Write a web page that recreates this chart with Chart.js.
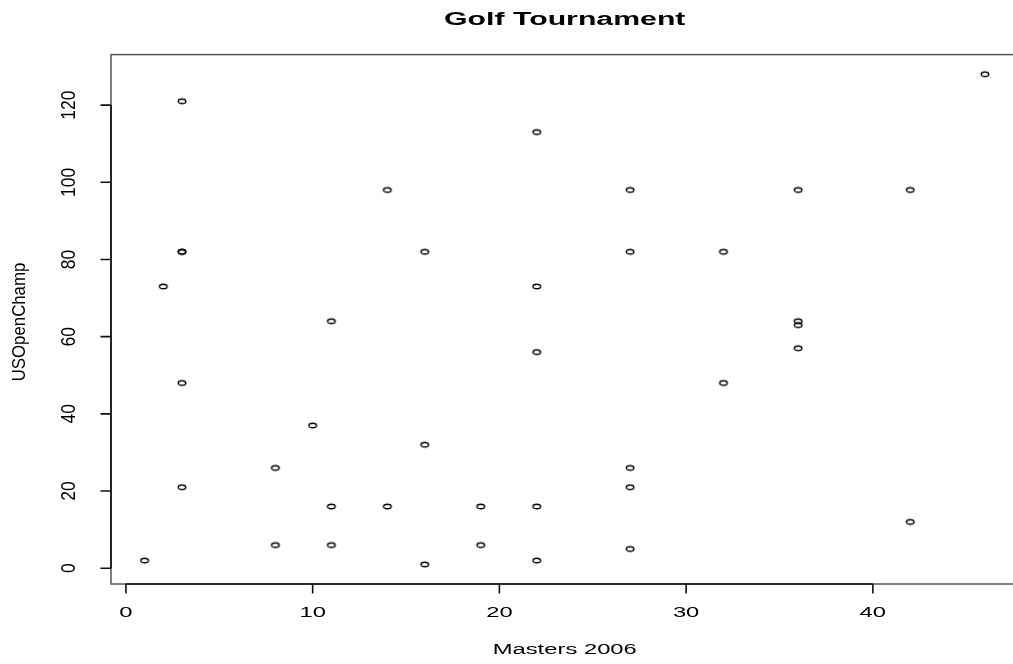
<!DOCTYPE html>
<html>
<head>
<meta charset="utf-8">
<title>Golf Tournament</title>
<script src="https://cdn.jsdelivr.net/npm/chart.js@4/dist/chart.umd.min.js"></script>
<style>
  html, body { margin: 0; padding: 0; background: #ffffff; overflow: hidden; }
  #wrap { width: 1024px; height: 664px; }
</style>
</head>
<body>
<div id="wrap"><canvas id="golf" width="1024" height="664"></canvas></div>
<script>
// Finishing positions of players in both events
const masters2006 = [3, 14, 3, 3, 2, 11, 3, 10, 8, 3, 11, 14, 8, 11, 1,
                     22, 27, 16, 27, 22, 22, 16, 27, 27, 19, 22, 19, 16, 22, 27,
                     46, 36, 42, 32, 36, 36, 36, 32, 42];
const usOpenChamp = [121, 98, 82, 82, 73, 64, 48, 37, 26, 21, 16, 16, 6, 6, 2,
                     113, 98, 82, 82, 73, 56, 32, 26, 21, 16, 16, 6, 1, 2, 5,
                     128, 98, 98, 82, 64, 63, 57, 48, 12];

const xTicks = [0, 10, 20, 30, 40];
const yTicks = [0, 20, 40, 60, 80, 100, 120];

const titleText = 'Golf Tournament';
const xTitle = 'Masters 2006';
const yTitle = 'USOpenChamp';

// Axis limits: data range widened by 4% on each side
const xMin = -0.8, xMax = 47.8;
const yMin = -4.08, yMax = 133.08;

const FONT = '"Liberation Sans", Arial, Helvetica, sans-serif';

// Open elliptical marker
function makeMarker() {
  const c = document.createElement('canvas');
  c.width = 12; c.height = 9;
  const g = c.getContext('2d');
  g.strokeStyle = '#000';
  g.lineWidth = 1.4;
  g.beginPath();
  g.ellipse(6, 4.5, 3.8, 2.3, 0, 0, Math.PI * 2);
  g.stroke();
  return c;
}

// Text with separate scaling along and across the baseline
function drawText(ctx, text, x, y, font, rotate, along, across) {
  ctx.save();
  ctx.translate(x, y);
  if (rotate) ctx.rotate(-Math.PI / 2);
  ctx.scale(along, across);
  ctx.font = font;
  ctx.fillStyle = '#000';
  ctx.textAlign = 'center';
  ctx.textBaseline = 'middle';
  ctx.fillText(text, 0, 0);
  ctx.restore();
}

// Box, axes, ticks and labels in base-graphics style
const frame = {
  id: 'frame',
  afterDraw(chart) {
    const ctx = chart.ctx;
    const a = chart.chartArea;
    const xs = chart.scales.x, ys = chart.scales.y;

    ctx.save();
    ctx.strokeStyle = '#555';
    ctx.lineWidth = 1.5;
    ctx.strokeRect(a.left, a.top, a.right - a.left, a.bottom - a.top);

    ctx.strokeStyle = '#111';
    ctx.lineWidth = 1.6;
    // x axis
    const x0 = xs.getPixelForValue(xTicks[0]);
    const x1 = xs.getPixelForValue(xTicks[xTicks.length - 1]);
    ctx.beginPath();
    ctx.moveTo(x0, a.bottom); ctx.lineTo(x1, a.bottom);
    xTicks.forEach(v => {
      const px = xs.getPixelForValue(v);
      ctx.moveTo(px, a.bottom); ctx.lineTo(px, a.bottom + 9.5);
    });
    ctx.stroke();
    // y axis
    const y0 = ys.getPixelForValue(yTicks[0]);
    const y1 = ys.getPixelForValue(yTicks[yTicks.length - 1]);
    ctx.beginPath();
    ctx.moveTo(a.left, y0); ctx.lineTo(a.left, y1);
    yTicks.forEach(v => {
      const py = ys.getPixelForValue(v);
      ctx.moveTo(a.left, py); ctx.lineTo(a.left - 10.5, py);
    });
    ctx.stroke();
    ctx.restore();

    const tickFont = '14px ' + FONT;
    xTicks.forEach(v => drawText(ctx, String(v), xs.getPixelForValue(v), 613, tickFont, false, 1.7, 1));
    yTicks.forEach(v => drawText(ctx, String(v), 70, ys.getPixelForValue(v), tickFont, true, 1.25, 1.4));

    const mid = (a.left + a.right) / 2;
    drawText(ctx, titleText, mid, 20, 'bold 18px ' + FONT, false, 1.68, 1);
    drawText(ctx, xTitle, mid, 650, '14px ' + FONT, false, 1.7, 1.05);
    drawText(ctx, yTitle, 20, 322, '14px ' + FONT, true, 1.2, 1.3);
  }
};

const points = masters2006.map((m, i) => ({ x: m, y: usOpenChamp[i] }));

new Chart(document.getElementById('golf'), {
  type: 'scatter',
  data: {
    datasets: [{
      data: points,
      pointStyle: makeMarker(),
      pointRadius: 4,
      clip: false
    }]
  },
  options: {
    responsive: false,
    animation: false,
    layout: { padding: { left: 111, top: 54.6, right: 5.5, bottom: 80 } },
    plugins: { legend: { display: false }, tooltip: { enabled: false }, title: { display: false } },
    scales: {
      x: { type: 'linear', display: false, min: xMin, max: xMax },
      y: { type: 'linear', display: false, min: yMin, max: yMax }
    }
  },
  plugins: [frame]
});
</script>
</body>
</html>
